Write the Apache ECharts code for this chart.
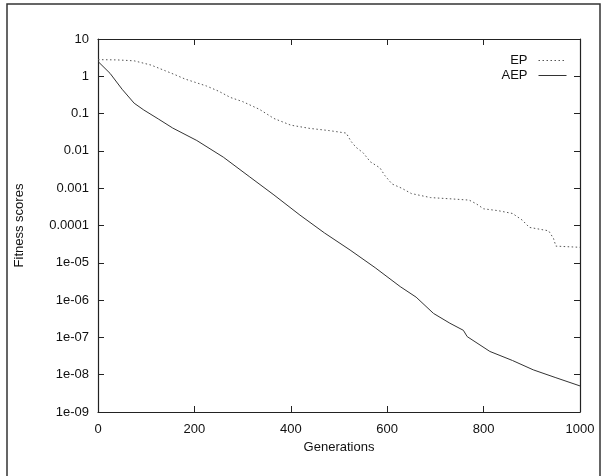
<!DOCTYPE html>
<html>
<head>
<meta charset="utf-8">
<script src="https://cdn.jsdelivr.net/npm/echarts@6/dist/echarts.min.js"></script>
<style>
  html, body { margin: 0; padding: 0; background: #fff; }
  #chart { width: 603px; height: 476px; }
</style>
</head>
<body>
<div id="chart"></div>
<script>
// EP run: [generation, fitness]
const epGenerations = [0, 40, 75, 110, 140, 160, 180, 200, 225, 250, 275, 300, 335, 365, 400, 440, 480, 515,
  525, 535, 550, 565, 585, 595, 610, 630, 650, 690, 730, 770, 785, 800, 830, 860, 880, 895, 935, 945, 950, 1000];
const epScores = [2.8, 2.75, 2.6, 2.0, 1.4, 1.1, 0.85, 0.7, 0.55, 0.4, 0.27, 0.21, 0.13, 0.074, 0.049, 0.04,
  0.035, 0.03, 0.018, 0.0126, 0.0089, 0.0051, 0.0035, 0.0022, 0.0013, 0.001, 0.00072, 0.00056, 0.00052, 0.00048,
  0.00038, 0.00028, 0.00025, 0.00021, 0.00014, 8.9e-5, 7.2e-5, 4.5e-5, 2.8e-5, 2.6e-5];

// AEP run
const aepGenerations = [0, 25, 50, 75, 95, 125, 155, 205, 260, 315, 365, 419, 470, 523, 575, 627, 660, 696,
  730, 758, 766, 813, 860, 903, 950, 1000];
const aepScores = [2.5, 1.2, 0.45, 0.19, 0.125, 0.072, 0.041, 0.019, 0.0068, 0.002, 6.6e-4, 1.9e-4, 6.3e-5,
  2.2e-5, 7.4e-6, 2.3e-6, 1.2e-6, 4.4e-7, 2.4e-7, 1.55e-7, 1.05e-7, 4.2e-8, 2.4e-8, 1.35e-8, 8.3e-9, 5.0e-9];

const yTickLabels = ['1e-09', '1e-08', '1e-07', '1e-06', '1e-05', '0.0001', '0.001', '0.01', '0.1', '1', '10'];

const font = 'Liberation Sans, Arial, sans-serif';
const ink = '#222';

function pairs(xs, ys) {
  return xs.map((x, i) => [x, ys[i]]);
}

function yLabel(v) {
  const e = Math.round(Math.log10(v));
  return yTickLabels[e + 9] || '';
}

const chart = echarts.init(document.getElementById('chart'));

// ticks point into the plot, like the gnuplot original
const tick = { show: true, inside: true, length: 6, lineStyle: { color: ink } };
// onZero off, or the mirrored right axis jumps to x = 0
const line = { show: true, onZero: false, lineStyle: { color: ink, width: 1.2 } };

const baseX = {
  type: 'value',
  min: 0,
  max: 1000,
  interval: 200,
  axisLine: line,
  axisTick: tick,
  splitLine: { show: false },
};
const baseY = {
  type: 'log',
  logBase: 10,
  min: 1e-9,
  max: 10,
  interval: 1,
  axisLine: line,
  axisTick: tick,
  splitLine: { show: false },
  minorTick: { show: false },
};

chart.setOption({
  animation: false,
  backgroundColor: '#fff',
  textStyle: { fontFamily: font },
  grid: { left: 98, right: 23, top: 39, bottom: 64 },
  graphic: [
    {
      type: 'rect',
      shape: { x: 7, y: 4, width: 593, height: 480 },
      style: { fill: 'none', stroke: '#333', lineWidth: 1.5 },
      silent: true,
    },
  ],
  legend: {
    orient: 'vertical',
    align: 'right',
    right: 36,
    top: 54,
    padding: 0,
    itemWidth: 28,
    itemHeight: 14,
    itemGap: 2,
    itemStyle: { opacity: 0 },
    lineStyle: { width: 1 },
    textStyle: { fontFamily: font, fontSize: 13, color: '#111', padding: [0, 6, 0, 0] },
    data: ['EP', 'AEP'],
  },
  xAxis: [
    Object.assign({}, baseX, {
      position: 'bottom',
      name: 'Generations',
      nameLocation: 'middle',
      nameGap: 24,
      nameTextStyle: { fontFamily: font, fontSize: 13, color: '#111' },
      axisLabel: { fontFamily: font, fontSize: 13, color: '#111', margin: 11, formatter: (v) => String(v) },
    }),
    Object.assign({}, baseX, { position: 'top', axisLabel: { show: false } }),
  ],
  yAxis: [
    Object.assign({}, baseY, {
      position: 'left',
      name: 'Fitness scores',
      nameLocation: 'middle',
      nameRotate: 90,
      nameGap: 72,
      nameTextStyle: { fontFamily: font, fontSize: 13, color: '#111' },
      axisLabel: { fontFamily: font, fontSize: 13, color: '#111', margin: 9, formatter: yLabel },
    }),
    Object.assign({}, baseY, { position: 'right', axisLabel: { show: false } }),
  ],
  series: [
    {
      name: 'EP',
      type: 'line',
      symbol: 'none',
      data: pairs(epGenerations, epScores),
      itemStyle: { color: '#555' },
      lineStyle: { color: '#555', width: 1, type: [1.5, 2.5] },
    },
    {
      name: 'AEP',
      type: 'line',
      symbol: 'none',
      data: pairs(aepGenerations, aepScores),
      itemStyle: { color: '#333' },
      lineStyle: { color: '#333', width: 1 },
    },
  ],
});
</script>
</body>
</html>
